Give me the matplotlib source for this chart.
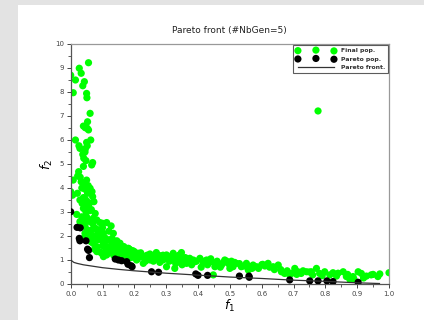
import matplotlib
matplotlib.use("Agg")
from matplotlib import pyplot as plt
from matplotlib.patches import Rectangle
from matplotlib.ticker import MultipleLocator

# final population (f1, f2)
final_f1 = [0.0, 0.015, 0.008, 0.027, 0.033, 0.043, 0.038, 0.05, 0.051, 0.056,
            0.061, 0.053, 0.04, 0.046, 0.052, 0.056, 0.015, 0.063, 0.026, 0.029,
            0.052, 0.046, 0.038, 0.041, 0.048, 0.069, 0.066, 0.008, 0.025, 0.022,
            0.033, 0.04, 0.05, 0.053, 0.061, 0.067, 0.0, 0.006, 0.021, 0.029,
            0.036, 0.046, 0.052, 0.059, 0.069, 0.073, 0.019, 0.04, 0.048, 0.061,
            0.077, 0.071, 0.082, 0.092, 0.029, 0.042, 0.055, 0.052, 0.066, 0.076,
            0.092, 0.1, 0.113, 0.127, 0.134, 0.103, 0.087, 0.071, 0.045, 0.04,
            0.059, 0.071, 0.082, 0.092, 0.103, 0.118, 0.082, 0.108, 0.118, 0.129,
            0.103, 0.113, 0.097, 0.139, 0.15, 0.155, 0.167, 0.181, 0.195, 0.139,
            0.165, 0.197, 0.212, 0.223, 0.207, 0.238, 0.249, 0.259, 0.269, 0.28,
            0.29, 0.301, 0.312, 0.322, 0.333, 0.348, 0.228, 0.301, 0.327, 0.354,
            0.364, 0.374, 0.39, 0.406, 0.416, 0.427, 0.442, 0.453, 0.463, 0.474,
            0.484, 0.495, 0.5, 0.51, 0.448, 0.52, 0.536, 0.552, 0.563, 0.558,
            0.573, 0.584, 0.603, 0.62, 0.636, 0.652, 0.662, 0.672, 0.688, 0.704,
            0.714, 0.724, 0.741, 0.756, 0.772, 0.782, 0.798, 0.814, 0.824, 0.835,
            0.856, 0.866, 0.877, 0.887, 0.903, 0.913, 0.929, 0.944, 0.965, 0.971,
            1.0, 0.777,
            0.035, 0.045, 0.06, 0.07, 0.085, 0.095, 0.105, 0.115, 0.125, 0.13,
            0.14, 0.145, 0.15, 0.16, 0.17, 0.175, 0.18, 0.19, 0.2, 0.21,
            0.22, 0.23, 0.24, 0.25, 0.26, 0.27, 0.28, 0.29, 0.31, 0.32,
            0.33, 0.34, 0.35, 0.36, 0.37, 0.38, 0.395, 0.41, 0.43, 0.44,
            0.46, 0.47, 0.49, 0.5, 0.515, 0.53, 0.545, 0.59, 0.61, 0.64,
            0.68, 0.71, 0.73, 0.76, 0.79, 0.84, 0.87, 0.89, 0.92, 0.95,
            0.065, 0.075, 0.085, 0.09, 0.1, 0.11, 0.12, 0.135, 0.155, 0.165,
            0.185, 0.04, 0.055, 0.065, 0.05, 0.06, 0.075, 0.035, 0.045, 0.055,
            0.03, 0.04, 0.045, 0.05,
            0.08, 0.09, 0.1, 0.11, 0.12, 0.13, 0.145, 0.16, 0.175, 0.19,
            0.205, 0.215, 0.235, 0.255, 0.275, 0.295, 0.315, 0.34, 0.365, 0.385,
            0.42, 0.455, 0.48, 0.505, 0.57, 0.6, 0.625, 0.66, 0.695, 0.75]
final_f2 = [8.7, 8.5, 7.97, 8.99, 8.78, 8.43, 8.26, 7.94, 7.76, 9.22,
            7.11, 6.76, 6.58, 6.51, 6.49, 6.42, 6.0, 6.0, 5.76, 5.65,
            5.76, 5.63, 5.4, 5.24, 5.14, 5.06, 4.96, 4.33, 4.68, 4.5,
            4.26, 4.22, 4.33, 3.78, 3.99, 3.85, 3.85, 3.7, 3.78, 3.5,
            3.36, 3.53, 3.43, 3.36, 3.64, 3.43, 2.9, 3.15, 3.01, 3.06,
            2.94, 2.74, 2.67, 2.56, 2.6, 2.56, 2.67, 2.25, 2.25, 2.32,
            2.25, 2.53, 2.56, 2.42, 2.11, 2.11, 2.04, 1.97, 2.11, 1.9,
            1.83, 1.69, 1.56, 1.86, 1.76, 1.83, 1.35, 1.56, 1.49, 1.63,
            1.14, 1.21, 1.28, 1.76, 1.63, 1.42, 1.56, 1.49, 1.39, 1.28,
            1.21, 1.21, 1.28, 1.14, 1.0, 1.07, 1.25, 1.14, 1.31, 1.17,
            1.0, 1.21, 1.07, 1.28, 1.14, 1.31, 0.86, 0.72, 0.65, 1.0,
            0.86, 1.07, 0.93, 1.07, 0.86, 1.0, 0.93, 0.72, 0.86, 0.79,
            1.0, 0.86, 0.65, 0.72, 0.38, 0.86, 0.72, 0.86, 0.72, 0.58,
            0.79, 0.72, 0.82, 0.86, 0.72, 0.79, 0.51, 0.44, 0.38, 0.65,
            0.51, 0.44, 0.51, 0.51, 0.65, 0.44, 0.51, 0.38, 0.47, 0.33,
            0.51, 0.31, 0.19, 0.31, 0.51, 0.44, 0.33, 0.38, 0.31, 0.42,
            0.47, 7.21,
            2.8, 2.4, 2.0, 2.5, 2.2, 1.95, 1.7, 1.55, 1.4, 1.9,
            1.55, 1.35, 1.15, 1.3, 1.4, 1.1, 1.25, 1.1, 1.35, 1.05,
            1.3, 1.15, 1.2, 1.0, 0.95, 1.05, 0.9, 1.2, 0.95, 1.0,
            0.85, 1.0, 0.8, 1.1, 0.9, 0.8, 0.95, 0.7, 0.8, 1.05,
            0.95, 0.7, 0.95, 0.8, 0.9, 0.85, 0.75, 0.65, 0.75, 0.6,
            0.55, 0.4, 0.55, 0.38, 0.35, 0.45, 0.4, 0.2, 0.25, 0.4,
            1.75, 1.45, 1.85, 1.35, 1.6, 1.9, 2.2, 1.2, 1.7, 1.0,
            1.45, 3.6, 3.25, 3.1, 2.8, 2.6, 2.0, 4.0, 3.95, 4.1,
            4.45, 4.9, 5.5, 5.9,
            2.3, 2.05, 2.35, 1.45, 1.3, 1.6, 1.8, 1.45, 1.25, 1.2,
            1.15, 1.2, 0.95, 1.15, 1.2, 1.05, 1.15, 1.2, 0.95, 1.0,
            0.95, 0.85, 0.9, 0.95, 0.65, 0.8, 0.7, 0.6, 0.45, 0.5]

# non-dominated individuals
pareto_f1 = [0.0, 0.02, 0.03, 0.027, 0.029, 0.048, 0.053, 0.056, 0.059, 0.14,
             0.15, 0.16, 0.176, 0.18, 0.19, 0.193, 0.254, 0.276, 0.393, 0.40,
             0.43, 0.53, 0.56, 0.561, 0.688, 0.751, 0.777, 0.805, 0.824, 0.903]
pareto_f2 = [3.01, 2.36, 2.34, 1.9, 1.8, 1.8, 1.45, 1.4, 1.1, 1.04,
             1.0, 0.97, 0.93, 0.82, 0.76, 0.72, 0.51, 0.49, 0.42, 0.36,
             0.36, 0.33, 0.33, 0.28, 0.17, 0.13, 0.13, 0.13, 0.1, 0.07]

# true front
front_f1 = [0.0, 0.01, 0.02, 0.04, 0.06, 0.08, 0.1, 0.15, 0.2, 0.25,
            0.3, 0.4, 0.5, 0.6, 0.7, 0.8, 0.9, 0.97]
front_f2 = [1.0, 0.9, 0.86, 0.8, 0.76, 0.72, 0.68, 0.61, 0.55, 0.5,
            0.45, 0.37, 0.29, 0.23, 0.16, 0.11, 0.05, 0.02]

fig = plt.figure(figsize=(4.24, 3.2), dpi=100)
fig.patch.set_facecolor("#e3e3e3")
# white page behind the axes, grey margin on the left and top
fig.patches.append(Rectangle((18 / 424, 0), 1, 315 / 320, transform=fig.transFigure,
                             facecolor="white", edgecolor="none", zorder=-10))

ax = fig.add_axes([0.1667, 0.1125, 0.7508, 0.75])
ax.set_zorder(1)
ax.scatter(final_f1, final_f2, s=27, c="#00ff00", edgecolors="none", label="Final pop.", zorder=2)
ax.scatter(pareto_f1, pareto_f2, s=27, c="black", edgecolors="none", label="Pareto pop.", zorder=3)
ax.plot(front_f1, front_f2, color="#333333", lw=0.9, label="Pareto front.", zorder=4)

ax.xaxis.set_major_locator(MultipleLocator(0.1))
ax.xaxis.set_minor_locator(MultipleLocator(0.05))
ax.yaxis.set_major_locator(MultipleLocator(1))
ax.yaxis.set_minor_locator(MultipleLocator(0.5))
ax.set_xlim(0, 1)
ax.set_ylim(0, 10)
ax.set_xticks(ax.get_xticks())
ax.set_xticklabels(["%.1f" % v for v in ax.get_xticks()])
ax.set_yticks(ax.get_yticks())
ax.set_yticklabels(["%d" % v for v in ax.get_yticks()])
ax.set_xlim(0, 1)
ax.set_ylim(0, 10)
ax.tick_params(which="major", length=3, width=0.7, labelsize=5, colors="#444444", pad=2)
ax.tick_params(which="minor", length=2, width=0.6, colors="#444444")
for side in ["top", "right"]:
    ax.spines[side].set_color("#999999")
for side in ["left", "bottom"]:
    ax.spines[side].set_color("#555555")
for sp in ax.spines.values():
    sp.set_linewidth(0.9)

ax.set_title("Pareto front (#NbGen=5)", fontsize=6.5, color="#222222", pad=8)
ax.set_xlabel("$f_1$", fontsize=9, labelpad=1)
ax.set_ylabel("$f_2$", fontsize=9, labelpad=0)

leg = ax.legend(loc="upper right", numpoints=3, scatterpoints=3, fontsize=4.4,
                frameon=True, fancybox=False, borderpad=0.5, handlelength=6.5,
                handletextpad=0.8, borderaxespad=0.15, labelspacing=0.5)
leg.get_frame().set_edgecolor("#333333")
leg.get_frame().set_linewidth(0.8)
for t in leg.get_texts():
    t.set_fontweight("bold")
    t.set_color("#333333")

plt.savefig("out.png", dpi=100)
